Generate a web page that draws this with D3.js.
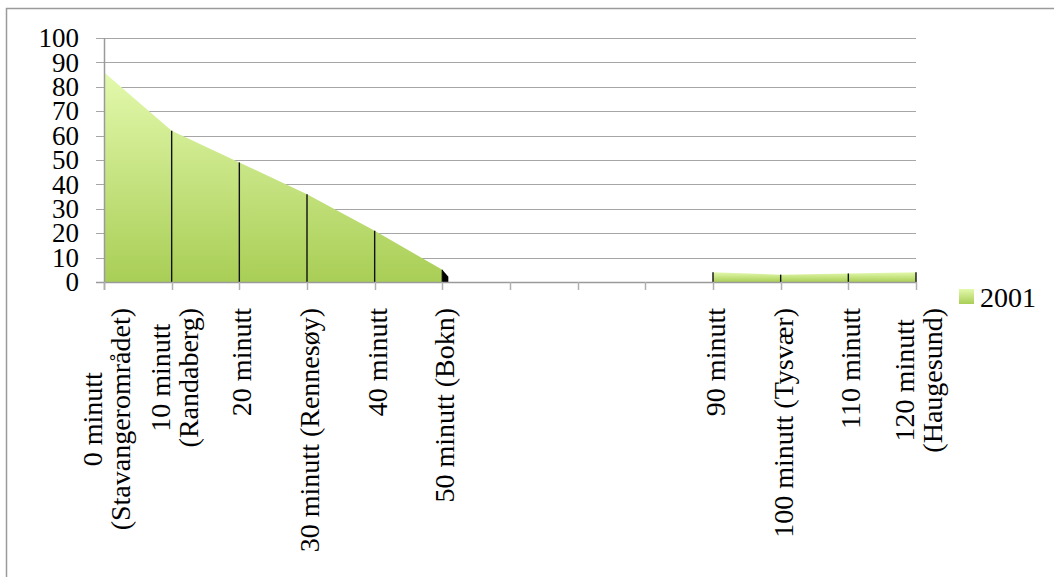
<!DOCTYPE html>
<html>
<head>
<meta charset="utf-8">
<script src="https://cdn.jsdelivr.net/npm/d3@7/dist/d3.min.js"></script>
<style>
  html, body { margin: 0; padding: 0; background: #fff; }
  svg { display: block; }
  text { font-family: "Liberation Serif", "Times New Roman", serif; fill: #000; }
</style>
</head>
<body>
<svg id="chart" width="1054" height="577"></svg>
<script>
// Travel time from Stavanger, share (%) reached, 2001
const categories = [
  "0 minutt\n(Stavangerområdet)",
  "10 minutt\n(Randaberg)",
  "20 minutt",
  "30 minutt (Rennesøy)",
  "40 minutt",
  "50 minutt (Bokn)",
  "",
  " ",
  "  ",
  "90 minutt",
  "100 minutt (Tysvær)",
  "110 minutt",
  "120 minutt\n(Haugesund)"
];
const values2001 = [86, 62, 49, 36, 21, 5, null, null, null, 4, 3, 3.5, 4];
const yTicks = [0, 10, 20, 30, 40, 50, 60, 70, 80, 90, 100];
const seriesName = "2001";

const svg = d3.select("#chart");
const W = 1054, H = 577;
const plot = { left: 104, right: 916, top: 38, bottom: 282 };

// chart area frame
svg.append("rect")
  .attr("x", 6.5).attr("y", 8.5)
  .attr("width", W + 10).attr("height", H + 10)
  .attr("fill", "none").attr("stroke", "#9a9a9a").attr("stroke-width", 1.5);

const x = d3.scalePoint().domain(categories).range([plot.left, plot.right]);
const y = d3.scaleLinear().domain([0, 100]).range([plot.bottom, plot.top]);

// fill gradient
const defs = svg.append("defs");
const grad = defs.append("linearGradient")
  .attr("id", "greenFill").attr("x1", 0).attr("y1", 0).attr("x2", 0).attr("y2", 1);
grad.append("stop").attr("offset", "0%").attr("stop-color", "#e3f9ad");
grad.append("stop").attr("offset", "100%").attr("stop-color", "#a9ce56");

// horizontal gridlines
svg.append("g")
  .selectAll("line")
  .data(yTicks.filter(d => d > 0))
  .join("line")
  .attr("x1", plot.left - 8).attr("x2", plot.right)
  .attr("y1", d => Math.round(y(d)) + 0.5).attr("y2", d => Math.round(y(d)) + 0.5)
  .attr("stroke", "#a6a6a6").attr("stroke-width", 1.2);

// split series into contiguous runs so each has its own gradient box
const pts = categories.map((c, i) => ({ c, v: values2001[i], i }));
const runs = [];
let cur = [];
pts.forEach(p => {
  if (p.v == null) { if (cur.length) runs.push(cur); cur = []; }
  else cur.push(p);
});
if (cur.length) runs.push(cur);

const area = d3.area()
  .x(d => x(d.c))
  .y0(y(0))
  .y1(d => y(d.v));

svg.append("g")
  .selectAll("path")
  .data(runs)
  .join("path")
  .attr("d", area)
  .attr("fill", "url(#greenFill)");

// small dark edge where the first run ends before the gap
const lastFirst = runs[0][runs[0].length - 1];
const lx = x(lastFirst.c), ly = y(lastFirst.v);
svg.append("path")
  .attr("d", `M${lx},${ly} L${lx + 6},${ly + 7} L${lx + 6},${y(0)} L${lx},${y(0)} Z`)
  .attr("fill", "#000");

// drop lines
svg.append("g")
  .selectAll("line")
  .data(pts.filter(p => p.v != null && p.i > 0))
  .join("line")
  .attr("x1", d => x(d.c)).attr("x2", d => x(d.c))
  .attr("y1", d => y(d.v)).attr("y2", y(0))
  .attr("stroke", "#111").attr("stroke-width", 1.4);

// axes lines
svg.append("line")
  .attr("x1", plot.left + 0.5).attr("x2", plot.left + 0.5)
  .attr("y1", plot.top).attr("y2", plot.bottom + 8)
  .attr("stroke", "#9a9a9a").attr("stroke-width", 1.5);
svg.append("line")
  .attr("x1", plot.left - 8).attr("x2", plot.right)
  .attr("y1", plot.bottom + 0.5).attr("y2", plot.bottom + 0.5)
  .attr("stroke", "#9a9a9a").attr("stroke-width", 1.5);

// x ticks
svg.append("g")
  .selectAll("line")
  .data(categories)
  .join("line")
  .attr("x1", d => Math.round(x(d)) + 0.5).attr("x2", d => Math.round(x(d)) + 0.5)
  .attr("y1", plot.bottom).attr("y2", plot.bottom + 8)
  .attr("stroke", "#b0b0b0").attr("stroke-width", 1.5);

// y tick labels
svg.append("g")
  .selectAll("text")
  .data(yTicks)
  .join("text")
  .attr("x", 79)
  .attr("y", d => y(d))
  .attr("dy", "0.34em")
  .attr("text-anchor", "end")
  .attr("font-size", 27)
  .text(d => d);

// rotated category labels, lines centred on each other
const lineH = 28;
const labelTop = 308;
const labels = svg.append("g");
categories.forEach(c => {
  const lines = c.trim() === "" ? [] : c.split("\n");
  if (!lines.length) return;
  const g = labels.append("g")
    .attr("transform", `translate(${x(c)},${labelTop}) rotate(-90)`);
  const texts = lines.map((ln, i) => g.append("text")
    .attr("font-size", 28)
    .attr("text-anchor", "middle")
    .attr("y", 12 + (i - (lines.length - 1) / 2) * lineH)
    .text(ln));
  const maxLen = d3.max(texts, t => t.node().getComputedTextLength());
  texts.forEach(t => t.attr("x", -maxLen / 2));
});

// legend
const lg = svg.append("g").attr("transform", "translate(959,289)");
lg.append("rect").attr("width", 15).attr("height", 15).attr("fill", "url(#greenFill)");
lg.append("text").attr("x", 21).attr("y", 18).attr("font-size", 28).text(seriesName);
</script>
</body>
</html>
